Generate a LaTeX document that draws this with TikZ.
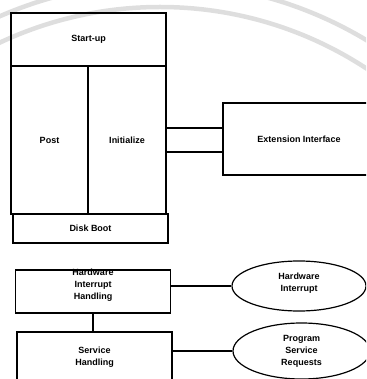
\documentclass[tikz,border=0pt]{standalone}
\usepackage{fontspec}
\newfontfamily\scanfont{Liberation Sans}
\usetikzlibrary{shapes.geometric}
\tikzstyle{block} = [draw, rectangle, line width=1.2pt, inner sep=0pt, align=center, font=\scanfont\bfseries\fontsize{9}{12}\selectfont]
\tikzstyle{source} = [draw, ellipse, line width=1.2pt, inner sep=0pt, align=center, font=\scanfont\bfseries\fontsize{9}{12}\selectfont]
\tikzstyle{caption} = [inner sep=0pt, align=center, font=\scanfont\bfseries\fontsize{9}{12}\selectfont]
\tikzstyle{link} = [line width=1.3pt]
\tikzstyle{stamp} = [line width=4.5pt, black!13]

\begin{document}
\begin{tikzpicture}[x=1pt,y=-1pt]
    \clip (0,0) rectangle (366,379);

    % watermark rings
    \draw[stamp] (160,384) circle (401pt);
    \draw[stamp] (160,384) circle (377pt);

    % boot blocks
    \node[block,minimum width=155,minimum height=53]  (startup) at (88.5,39.5) {Start-up};
    \node[block,minimum width=77,minimum height=148]  (post)    at (49.5,140)  {Post};
    \node[block,minimum width=78,minimum height=148]  (init)    at (127,140)   {Initialize};
    \node[block,minimum width=155,minimum height=29]  (disk)    at (90.5,228.5) {Disk Boot};
    \node[block,minimum width=152,minimum height=72]  (ext)     at (299,139)   {Extension Interface};
    \draw[link] ([yshift=12pt]init.east)  -- ([yshift=12pt]init.east -| ext.west);
    \draw[link] ([yshift=-12pt]init.east) -- ([yshift=-12pt]init.east -| ext.west);

    % run time blocks
    \node[block,minimum width=155,minimum height=43] (hwh) at (93,291.5) {};
    \node[caption] (hwhtext) at ([yshift=6.5pt]hwh.center) {Hardware\\Interrupt\\Handling};
    \node[block,minimum width=155,minimum height=51] (svc) at (94.5,357.5) {Service\\Handling};
    \draw[link] (hwh.south) -- (hwh.south |- svc.north);

    % outside events
    \node[source,minimum width=134,minimum height=50] (hwi) at (299,286) {};
    \node[caption] (hwitext) at ([yshift=2.5pt]hwi.center) {Hardware\\Interrupt};
    \node[source,minimum width=137,minimum height=56] (psr) at (301.5,351) {Program\\Service\\Requests};
    \draw[link] (hwi.west) -- (hwi.west -| hwh.east);
    \draw[link] (psr.west) -- (psr.west -| svc.east);
\end{tikzpicture}
\end{document}
